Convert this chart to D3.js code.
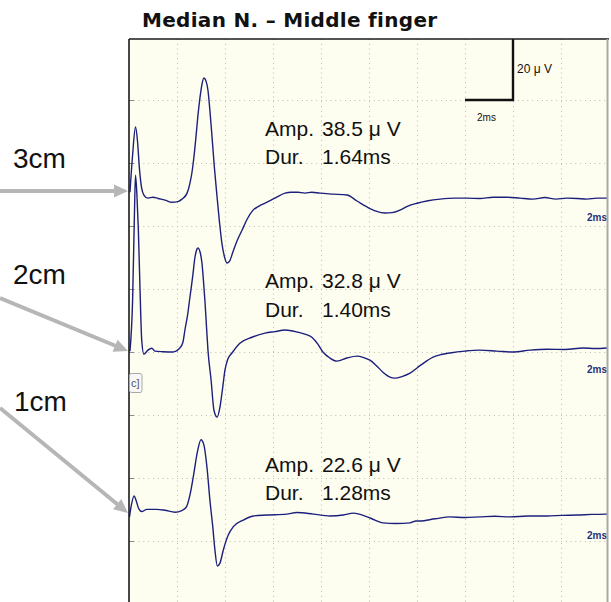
<!DOCTYPE html>
<html>
<head>
<meta charset="utf-8">
<script src="https://cdn.jsdelivr.net/npm/d3@7"></script>
<style>
  body { margin: 0; background: #ffffff; }
  svg { display: block; }
</style>
</head>
<body>
<svg id="chart" width="611" height="602"></svg>
<script>
// ---- Recorded sensory responses (time in ms, voltage in µV relative to each trace baseline) ----
const traceNames = ["3cm", "2cm", "1cm"];
const amplitudes = [38.5, 32.8, 22.6];   // µV
const durations  = [1.64, 1.40, 1.28];   // ms

const time3cm = [0.04,0.15,0.27,0.35,0.44,0.52,0.62,0.79,1.0,1.21,1.5,1.79,2.04,2.21,2.42,2.54,2.62,2.71,2.79,2.87,2.96,3.04,3.12,3.21,3.29,3.37,3.46,3.56,3.67,3.77,3.87,3.98,4.08,4.19,4.33,4.5,4.71,4.92,5.17,5.42,5.67,6.08,6.5,6.75,7.04,7.33,7.62,7.96,8.5,9.08,9.5,9.92,10.29,10.67,10.96,11.29,11.62,12.0,12.46,12.96,13.58,14.08,14.62,15.17,15.75,16.29,16.83,17.33,17.79,18.25,18.67,19.08,19.5,19.92];
const volt3cm = [2.2,14.0,22.9,18.8,9.2,3.8,1.3,0.3,0.6,0.2,-0.3,-1.0,-0.8,0.0,1.9,5.1,8.3,13.7,19.7,26.4,32.4,36.5,38.5,37.5,34.6,28.3,19.7,9.9,0.6,-7.3,-14.0,-18.4,-20.3,-19.7,-16.8,-13.3,-9.9,-6.4,-3.5,-2.2,-1.3,0.3,1.9,2.2,2.2,1.9,2.2,1.9,1.6,1.3,-0.6,-2.5,-3.8,-4.4,-4.3,-3.5,-2.2,-1.3,-0.5,0.0,0.3,0.3,0.2,0.6,0.6,0.3,0.0,0.5,0.0,0.3,0.2,0.0,0.3,0.3];

const time2cm = [0.04,0.15,0.23,0.27,0.33,0.39,0.46,0.53,0.62,0.79,0.95,1.08,1.42,1.79,2.12,2.25,2.33,2.44,2.54,2.65,2.75,2.83,2.87,2.96,3.04,3.1,3.17,3.23,3.29,3.42,3.54,3.67,3.79,3.9,4.0,4.12,4.29,4.62,5.12,5.67,6.08,6.5,7.04,7.33,7.62,7.87,8.08,8.37,8.67,9.08,9.5,9.79,10.04,10.33,10.58,10.83,11.08,11.37,11.71,12.17,12.67,13.0,13.37,14.0,14.62,15.33,16.0,16.71,17.42,18.17,18.92,19.42,19.92];
const volt2cm = [0.0,16.2,44.8,55.9,49.6,38.5,19.4,3.5,-1.0,0.3,0.9,0.0,-0.2,-0.3,1.0,2.9,6.7,11.4,17.2,23.5,29.9,32.4,32.8,31.5,28.0,22.6,15.3,7.6,0.3,-9.2,-18.8,-21.0,-17.8,-11.8,-6.0,-2.5,-0.6,2.5,4.4,5.7,6.2,6.7,6.0,5.4,4.4,2.2,-0.3,-2.2,-3.2,-2.2,-1.6,-2.1,-2.9,-4.8,-6.7,-8.1,-8.6,-8.1,-7.0,-4.4,-1.9,-1.1,-0.6,0.0,0.3,0.0,-0.3,0.3,0.6,0.5,1.0,0.8,1.0];

const time1cm = [0.02,0.1,0.21,0.29,0.39,0.53,0.74,1.15,1.5,1.92,2.2,2.4,2.54,2.68,2.85,3.0,3.12,3.26,3.37,3.49,3.58,3.68,3.79,3.93,4.14,4.35,4.76,5.18,5.74,6.57,6.99,7.68,8.37,8.93,9.35,9.9,10.25,10.58,11.12,11.71,11.96,12.12,12.75,13.37,14.0,14.62,15.25,15.87,16.62,17.42,18.04,18.67,19.29,19.92];
const volt1cm = [-1.9,1.9,4.8,3.5,1.0,-0.2,0.5,0.5,0.2,-0.4,0.1,1.4,5.1,10.9,18.8,22.6,21.0,13.0,3.5,-5.0,-12.4,-17.5,-16.6,-12.4,-7.6,-5.0,-2.9,-1.6,-1.3,-1.0,-0.5,-1.0,-1.6,-1.3,-0.7,-1.8,-2.9,-3.8,-4.0,-3.8,-3.2,-3.2,-2.5,-1.9,-2.1,-1.9,-1.7,-1.9,-1.6,-1.6,-1.4,-1.3,-1.1,-1.0];

// Display offset of each trace on the screen (µV above the bottom grid line)
const traceOffsets = [128.5, 80.2, 29.4];

// Sweep settings: 2 ms/div horizontally, 20 µV/div vertically
const sweepMs = 20;
const divMs = 2;
const divUV = 20;

const traces = [
  { name: traceNames[0], t: time3cm, v: volt3cm },
  { name: traceNames[1], t: time2cm, v: volt2cm },
  { name: traceNames[2], t: time1cm, v: volt1cm }
];

// ---- Layout ----
const W = 611, H = 602;
const panel = { left: 129, right: 609, top: 39, bottom: 602 };
const gridTopY = 100, pxPerDiv = 62.93;

const svg = d3.select("#chart");

const x = d3.scaleLinear().domain([0, sweepMs]).range([panel.left, panel.right]);
// Screen voltage scale: 0 µV at the 8th grid line below the first one
const y = d3.scaleLinear()
  .domain([0, 8 * divUV])
  .range([gridTopY + 8 * pxPerDiv, gridTopY]);

// Panel background
svg.append("rect")
  .attr("x", panel.left).attr("y", panel.top)
  .attr("width", panel.right - panel.left).attr("height", panel.bottom - panel.top)
  .attr("fill", "#fefef0");

svg.append("defs").append("clipPath").attr("id", "panelClip")
  .append("rect")
  .attr("x", panel.left).attr("y", panel.top)
  .attr("width", panel.right - panel.left - 2).attr("height", panel.bottom - panel.top);

// Dotted grid
const grid = svg.append("g").attr("clip-path", "url(#panelClip)");
const vTicks = d3.range(divMs, sweepMs, divMs);
grid.selectAll("line.v").data(vTicks).join("line")
  .attr("class", "v")
  .attr("x1", d => x(d) + 0.5).attr("x2", d => x(d) + 0.5)
  .attr("y1", panel.top).attr("y2", panel.bottom)
  .attr("stroke", "#b9b9b0").attr("stroke-width", 1)
  .attr("stroke-dasharray", "1,3.8");
const hTicks = d3.range(0, 8 * divUV + 1, divUV);
grid.selectAll("line.h").data(hTicks).join("line")
  .attr("class", "h")
  .attr("x1", panel.left).attr("x2", panel.right)
  .attr("y1", d => Math.round(y(d)) + 0.5).attr("y2", d => Math.round(y(d)) + 0.5)
  .attr("stroke", "#b9b9b0").attr("stroke-width", 1)
  .attr("stroke-dasharray", "1,3.8");
// short solid ticks on the left edge
grid.selectAll("line.lt").data(hTicks).join("line")
  .attr("class", "lt")
  .attr("x1", panel.left).attr("x2", panel.left + 5)
  .attr("y1", d => Math.round(y(d)) + 0.5).attr("y2", d => Math.round(y(d)) + 0.5)
  .attr("stroke", "#8a8a8a").attr("stroke-width", 1);

// Calibration bar: 2 ms x 20 µV, corner on a grid intersection
const calT = 16, calV = 8 * divUV;
grid.append("path")
  .attr("d", `M${x(calT - divMs)},${y(calV)} H${x(calT)} V${y(calV + divUV)}`)
  .attr("fill", "none").attr("stroke", "#111").attr("stroke-width", 2.4);
svg.append("text")
  .attr("x", x(calT) + 4).attr("y", 73)
  .attr("font-family", "'Liberation Sans', Arial, sans-serif")
  .attr("font-size", 12).attr("fill", "#111")
  .text("20 μ V");
svg.append("text")
  .attr("x", x(calT - divMs) + 12).attr("y", 121)
  .attr("font-family", "'Liberation Sans', Arial, sans-serif")
  .attr("font-size", 10).attr("fill", "#111")
  .text("2ms");

// Traces
const line = d3.line().curve(d3.curveMonotoneX);
const traceG = svg.append("g").attr("clip-path", "url(#panelClip)");
traces.forEach((tr, i) => {
  const pts = tr.t.map((t, k) => [x(t), y(traceOffsets[i] + tr.v[k])]);
  traceG.append("path")
    .attr("d", line(pts))
    .attr("fill", "none")
    .attr("stroke", "#1d1f7d")
    .attr("stroke-width", 1.4)
    .attr("stroke-linejoin", "round");
});

// Per-trace sweep labels
const sweepLabelY = [221, 373, 539];
traces.forEach((tr, i) => {
  svg.append("text")
    .attr("x", 607).attr("y", sweepLabelY[i])
    .attr("text-anchor", "end")
    .attr("font-family", "'Liberation Sans', Arial, sans-serif")
    .attr("font-weight", "bold")
    .attr("font-size", 10).attr("fill", "#26307a")
    .text(`${divMs}ms`);
});

// Panel border
svg.append("line").attr("x1", panel.left).attr("x2", panel.left)
  .attr("y1", panel.top).attr("y2", panel.bottom)
  .attr("stroke", "#1a1a1a").attr("stroke-width", 1.6);
svg.append("line").attr("x1", panel.left).attr("x2", panel.right)
  .attr("y1", panel.top).attr("y2", panel.top)
  .attr("stroke", "#1a1a1a").attr("stroke-width", 1.6);
svg.append("line").attr("x1", panel.right - 1.5).attr("x2", panel.right - 1.5)
  .attr("y1", panel.top).attr("y2", panel.bottom)
  .attr("stroke", "#a9a9a9").attr("stroke-width", 2);

// Small scale-unit button on the left edge
svg.append("rect")
  .attr("x", panel.left + 0.5).attr("y", 373.5).attr("width", 12.5).attr("height", 19)
  .attr("rx", 2).attr("fill", "#f7f7f7").attr("stroke", "#a8a8a8");
svg.append("text")
  .attr("x", panel.left + 2).attr("y", 387)
  .attr("font-family", "'Liberation Sans', Arial, sans-serif")
  .attr("font-size", 11).attr("fill", "#555")
  .text("c]");

// Amplitude / duration annotations
const annotRows = [[136, 164], [288, 317], [472, 500]];
const annot = svg.append("g")
  .attr("font-family", "'Liberation Sans', Arial, sans-serif")
  .attr("font-size", 21).attr("fill", "#111");
traces.forEach((tr, i) => {
  annot.append("text").attr("x", 265).attr("y", annotRows[i][0]).text("Amp.");
  annot.append("text").attr("x", 322).attr("y", annotRows[i][0]).text(`${amplitudes[i].toFixed(1)} μ V`);
  annot.append("text").attr("x", 265).attr("y", annotRows[i][1]).text("Dur.");
  annot.append("text").attr("x", 322).attr("y", annotRows[i][1]).text(`${durations[i].toFixed(2)}ms`);
});

// Title
svg.append("text")
  .attr("x", 142).attr("y", 27)
  .attr("font-family", "'DejaVu Sans', sans-serif")
  .attr("font-weight", "bold")
  .attr("font-size", 20)
  .attr("letter-spacing", 0.3)
  .attr("fill", "#111")
  .text("Median N. – Middle finger");

// Distance labels with arrows pointing to the start of each trace
const distLabels = [
  { x: 13, y: 168, from: [0, 191], to: [128, 191] },
  { x: 13, y: 284, from: [0, 298], to: [128, 351] },
  { x: 14, y: 411, from: [0, 408], to: [128, 513] }
];
const arrowG = svg.append("g");
distLabels.forEach((d, i) => {
  const [x0, y0] = d.from, [x1, y1] = d.to;
  const len = Math.hypot(x1 - x0, y1 - y0);
  const ux = (x1 - x0) / len, uy = (y1 - y0) / len;
  const headL = 14, headW = 6.5;
  const bx = x1 - ux * headL, by = y1 - uy * headL;
  arrowG.append("line")
    .attr("x1", x0).attr("y1", y0).attr("x2", bx + ux).attr("y2", by + uy)
    .attr("stroke", "#b6b6b6").attr("stroke-width", 4);
  arrowG.append("path")
    .attr("d", `M${x1},${y1} L${bx - uy * headW},${by + ux * headW} L${bx + uy * headW},${by - ux * headW} Z`)
    .attr("fill", "#b6b6b6");
  svg.append("text")
    .attr("x", d.x).attr("y", d.y)
    .attr("font-family", "'Liberation Sans', Arial, sans-serif")
    .attr("font-size", 28).attr("fill", "#111")
    .text(traceNames[i]);
});
</script>
</body>
</html>
